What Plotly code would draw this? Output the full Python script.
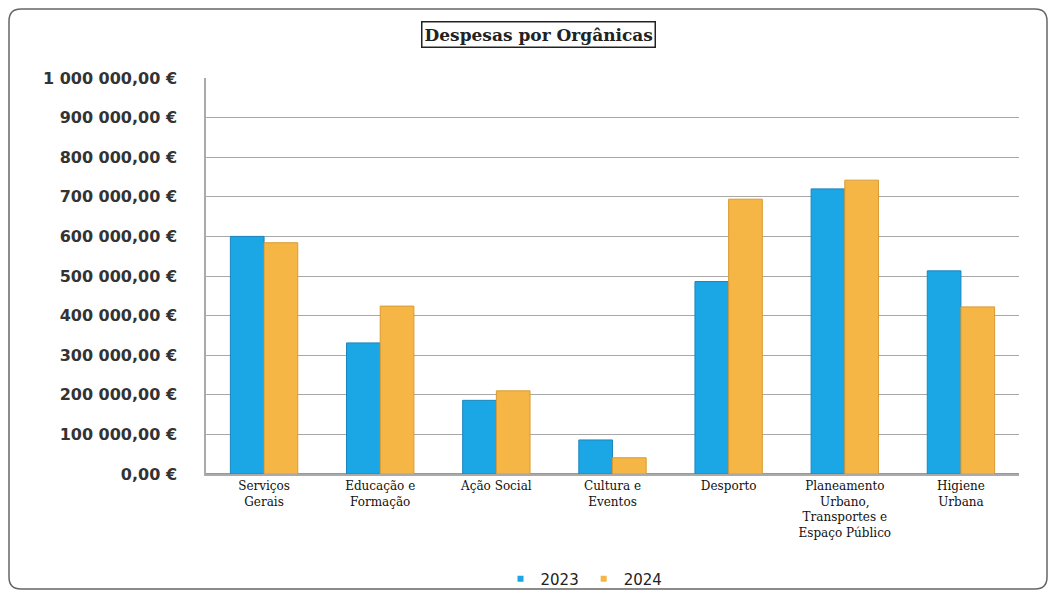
import plotly.graph_objects as go

categories = [
    "Serviços<br>Gerais",
    "Educação e<br>Formação",
    "Ação Social",
    "Cultura e<br>Eventos",
    "Desporto",
    "Planeamento<br>Urbano,<br>Transportes e<br>Espaço Público",
    "Higiene<br>Urbana",
]
values_2023 = [600000, 331000, 186000, 86000, 486000, 720000, 513000]
values_2024 = [584000, 424000, 210000, 41000, 694000, 742000, 422000]
tick_values = [0, 100000, 200000, 300000, 400000, 500000, 600000, 700000, 800000, 900000, 1000000]
tick_labels = ["0,00 €", "100 000,00 €", "200 000,00 €", "300 000,00 €", "400 000,00 €",
               "500 000,00 €", "600 000,00 €", "700 000,00 €", "800 000,00 €",
               "900 000,00 €", "1 000 000,00 €"]
series_names = ["2023", "2024"]
colors = ["#1BA6E6", "#F6B645"]
edge_colors = ["#1B86BE", "#D99A34"]

# page body has an 8px margin, so figure coords = window coords - 8
OFF = 8
W, H = 1040, 582
L, T = 206 - OFF, 78 - OFF
R = W - (1019 - OFF)
B = H - (474 - OFF)
pw, ph = W - L - R, H - T - B

def px(xw):
    return (xw - OFF - L) / pw

def py(yw):
    return (H - B - (yw - OFF)) / ph

fig = go.Figure()
for name, vals, c, ec in zip(series_names, [values_2023, values_2024], colors, edge_colors):
    fig.add_trace(go.Bar(name=name, x=categories, y=vals, showlegend=False,
                         marker=dict(color=c, line=dict(color=ec, width=1))))
for name, c in zip(series_names, colors):
    fig.add_trace(go.Scatter(name=name, x=[None], y=[None], mode="markers",
                             marker=dict(color=c, size=6, symbol="square")))

# outer rounded border
x0, x1, y0, y1, r = 9, 1047, 9, 589, 12
path = (f"M {px(x0+r)},{py(y0)} L {px(x1-r)},{py(y0)} Q {px(x1)},{py(y0)} {px(x1)},{py(y0+r)} "
        f"L {px(x1)},{py(y1-r)} Q {px(x1)},{py(y1)} {px(x1-r)},{py(y1)} "
        f"L {px(x0+r)},{py(y1)} Q {px(x0)},{py(y1)} {px(x0)},{py(y1-r)} "
        f"L {px(x0)},{py(y0+r)} Q {px(x0)},{py(y0)} {px(x0+r)},{py(y0)} Z")

fig.update_layout(
    width=W, height=H,
    margin=dict(l=L, r=R, t=T, b=B, autoexpand=False),
    paper_bgcolor="white", plot_bgcolor="white",
    barmode="group", bargap=0.42, bargroupgap=0.0,
    font=dict(family="DejaVu Serif", color="#222"),
    shapes=[dict(type="path", path=path, xref="paper", yref="paper",
                 line=dict(color="#666", width=1.5), fillcolor="rgba(0,0,0,0)", layer="below")],
    annotations=[dict(text="<b>Despesas por Orgânicas</b>", x=px(538), y=py(34.5),
                      xref="paper", yref="paper", xanchor="center", yanchor="middle",
                      showarrow=False,
                      font=dict(family="DejaVu Serif", size=17, color="#222"),
                      bordercolor="#222", borderwidth=1.5, borderpad=2, bgcolor="white")],
    legend=dict(orientation="h", xref="container", yref="container",
                x=(584 - OFF) / W, y=1 - (579 - OFF) / H, xanchor="center", yanchor="middle",
                font=dict(family="DejaVu Sans", size=15, color="#222"),
                bgcolor="rgba(0,0,0,0)", itemwidth=30, tracegroupgap=0),
)
fig.update_yaxes(range=[0, 1000000], tickvals=tick_values, ticktext=tick_labels,
                 showgrid=True, gridcolor="#a8a8a8", gridwidth=1,
                 showline=True, linecolor="#aaaaaa", linewidth=1.5,
                 ticks="", ticklabelstandoff=24, automargin=False,
                 tickfont=dict(family="DejaVu Sans", size=16, color="#333", weight="bold"),
                 zeroline=True, zerolinecolor="#999")
fig.update_xaxes(showline=True, linecolor="#aaaaaa", linewidth=1.5, automargin=False,
                 tickfont=dict(family="DejaVu Serif", size=12, color="#111"),
                 tickangle=0, ticks="")

fig.write_html("out.html")
